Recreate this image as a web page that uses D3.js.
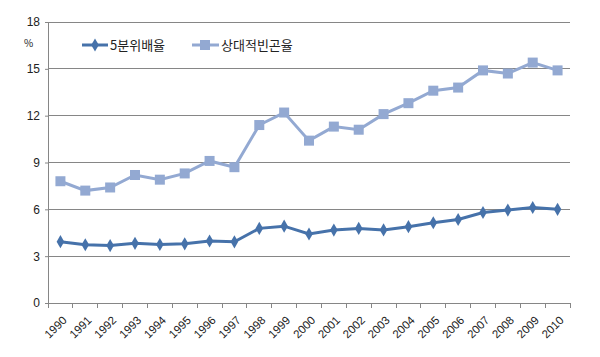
<!DOCTYPE html>
<html><head><meta charset="utf-8">
<script src="https://cdn.jsdelivr.net/npm/d3@7"></script>
<style>body{margin:0;background:#fff;} svg{display:block;font-family:"Noto Sans CJK KR","Liberation Sans",sans-serif;}</style>
</head><body>
<svg id="c" width="600" height="357"></svg>
<script>
const years = ["1990","1991","1992","1993","1994","1995","1996","1997","1998","1999","2000","2001","2002","2003","2004","2005","2006","2007","2008","2009","2010"];
const quintileRatio = [3.93,3.73,3.68,3.82,3.75,3.79,3.97,3.92,4.78,4.92,4.42,4.67,4.78,4.68,4.89,5.14,5.35,5.8,5.95,6.12,6.0];
const povertyRate = [7.8,7.2,7.4,8.2,7.9,8.3,9.1,8.7,11.4,12.2,10.4,11.3,11.1,12.1,12.8,13.6,13.8,14.9,14.7,15.4,14.9];
const yTicks = [0,3,6,9,12,15,18];
const seriesNames = ["5분위배율","상대적빈곤율"];

const svg = d3.select("#c");
const L=48,R=570,T=22,B=303;
const x = d3.scaleBand().domain(years).range([L,R]);
const y = d3.scaleLinear().domain([0,18]).range([B,T]);
const grid="#868686";

// gridlines
svg.append("g").selectAll("line").data(yTicks.filter(d=>d>0)).join("line")
  .attr("x1",L).attr("x2",R).attr("y1",d=>y(d)).attr("y2",d=>y(d))
  .attr("stroke",grid).attr("stroke-width",1).attr("shape-rendering","crispEdges");

// y axis
const ya = svg.append("g").attr("transform",`translate(${L},0)`)
  .call(d3.axisLeft(y).tickValues(yTicks).tickSize(3).tickPadding(5));
ya.select(".domain").attr("stroke",grid);
ya.selectAll(".tick line").attr("stroke",grid);
ya.selectAll("text").attr("font-size",12).attr("fill","#222").attr("font-family","Liberation Sans, Arial, sans-serif");

// x axis
const xa = svg.append("g").attr("transform",`translate(0,${B})`)
  .call(d3.axisBottom(x).tickSize(0));
xa.select(".domain").attr("stroke",grid);
xa.selectAll(".tick line").remove();
svg.append("g").selectAll("line").data(years.concat(["end"])).join("line")
  .attr("x1",(d,i)=>L+i*x.step()).attr("x2",(d,i)=>L+i*x.step())
  .attr("y1",B).attr("y2",B+5).attr("stroke",grid).attr("shape-rendering","crispEdges");
xa.selectAll("text")
  .attr("font-size",11.5).attr("fill","#222").attr("font-family","Liberation Sans, Arial, sans-serif")
  .attr("text-anchor","end").attr("dy",0).attr("y",0)
  .attr("transform",`translate(7,18) rotate(-45)`);

const c1="#4672AA", c2="#93A9D2";
const cx = d=>x(d)+x.bandwidth()/2;

// poverty series
svg.append("path").datum(povertyRate)
  .attr("d",d3.line().x((d,i)=>cx(years[i])).y(d=>y(d)))
  .attr("fill","none").attr("stroke",c2).attr("stroke-width",3);
svg.append("g").selectAll("rect").data(povertyRate).join("rect")
  .attr("x",(d,i)=>cx(years[i])-5).attr("y",d=>y(d)-5).attr("width",10).attr("height",10).attr("fill",c2);

// quintile series
svg.append("path").datum(quintileRatio)
  .attr("d",d3.line().x((d,i)=>cx(years[i])).y(d=>y(d)))
  .attr("fill","none").attr("stroke",c1).attr("stroke-width",3);
svg.append("g").selectAll("path.m").data(quintileRatio).join("path")
  .attr("d",d3.symbol(d3.symbolDiamond,50))
  .attr("transform",(d,i)=>`translate(${cx(years[i])},${y(d)})`).attr("fill",c1);

// % label
svg.append("text").attr("x",24).attr("y",47).attr("font-size",10).attr("fill","#222").text("%");

// legend
const lg = svg.append("g");
lg.append("line").attr("x1",82).attr("x2",108).attr("y1",45).attr("y2",45).attr("stroke",c1).attr("stroke-width",3);
lg.append("path").attr("d",d3.symbol(d3.symbolDiamond,50)).attr("transform","translate(95,45)").attr("fill",c1);
lg.append("text").attr("x",110).attr("y",50).attr("font-size",13).attr("fill","#222").text(seriesNames[0]);
lg.append("line").attr("x1",192).attr("x2",219).attr("y1",45).attr("y2",45).attr("stroke",c2).attr("stroke-width",3);
lg.append("rect").attr("x",200).attr("y",40).attr("width",10).attr("height",10).attr("fill",c2);
lg.append("text").attr("x",221).attr("y",50).attr("font-size",13).attr("fill","#222").text(seriesNames[1]);
</script>
</body></html>
